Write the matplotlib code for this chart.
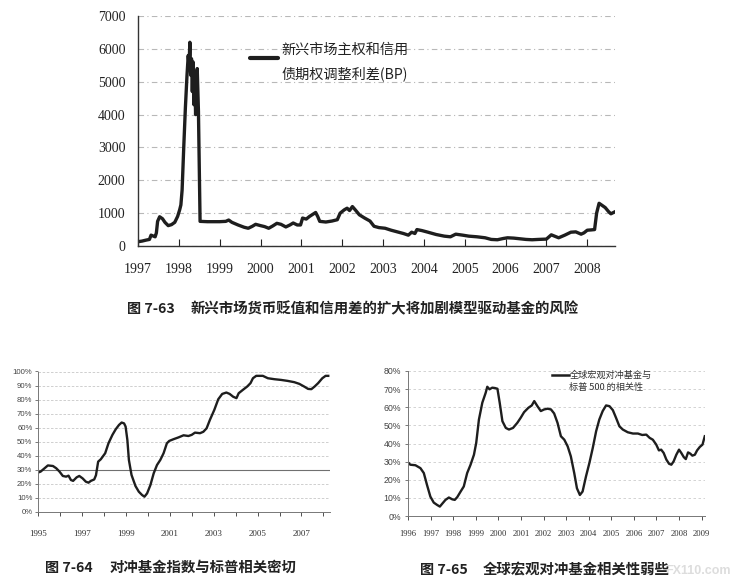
import matplotlib
matplotlib.use("Agg")
import matplotlib.pyplot as plt
import numpy as np

plt.rcParams['font.family'] = ['Liberation Serif', 'Noto Sans CJK SC', 'DejaVu Sans']

# ---------------- data: Fig 7-63 ----------------
spread_years = [1997.00, 1997.10, 1997.20, 1997.28, 1997.32, 1997.38, 1997.42, 1997.45, 1997.48, 1997.53,
                1997.60, 1997.66, 1997.74, 1997.82, 1997.90, 1997.97, 1998.02, 1998.05, 1998.08, 1998.12,
                1998.16, 1998.20, 1998.23, 1998.25, 1998.27, 1998.29, 1998.31, 1998.33, 1998.35, 1998.37,
                1998.39, 1998.41, 1998.43, 1998.45, 1998.48, 1998.52, 1998.70, 1999.00, 1999.15, 1999.22,
                1999.30, 1999.45, 1999.60, 1999.70, 1999.80, 1999.88, 2000.00, 2000.10, 2000.20, 2000.30,
                2000.40, 2000.50, 2000.62, 2000.72, 2000.80, 2000.90, 2000.98, 2001.03, 2001.12, 2001.20,
                2001.30, 2001.35, 2001.40, 2001.45, 2001.60, 2001.75, 2001.88, 2001.95, 2002.05, 2002.12,
                2002.18, 2002.25, 2002.32, 2002.42, 2002.55, 2002.68, 2002.78, 2002.90, 2003.05, 2003.20,
                2003.35, 2003.50, 2003.62, 2003.70, 2003.78, 2003.83, 2003.95, 2004.10, 2004.30, 2004.50,
                2004.65, 2004.78, 2004.95, 2005.10, 2005.30, 2005.50, 2005.65, 2005.80, 2005.95, 2006.05,
                2006.20, 2006.35, 2006.50, 2006.65, 2006.80, 2007.00, 2007.12, 2007.20, 2007.30, 2007.45,
                2007.60, 2007.72, 2007.85, 2007.92, 2008.00, 2008.10, 2008.18, 2008.23, 2008.29, 2008.36,
                2008.44, 2008.52, 2008.58, 2008.66]
spread_values = [130, 150, 180, 200, 330, 300, 280, 400, 750, 890,
                 830, 720, 620, 650, 720, 900, 1100, 1250, 1700, 3000,
                 4200, 5200, 5800, 5500, 6200, 5200, 5700, 4700, 5600, 4300,
                 5300, 4000, 4600, 5400, 4100, 750, 740, 740, 750, 790,
                 720, 640, 570, 540, 600, 660, 620, 590, 540, 610,
                 690, 660, 580, 640, 700, 640, 640, 850, 820, 900,
                 980, 1020, 900, 750, 730, 760, 800, 1000, 1100, 1150,
                 1080, 1200, 1100, 950, 850, 760, 600, 560, 540, 480,
                 430, 380, 330, 420, 380, 500, 470, 420, 350, 300,
                 280, 360, 330, 300, 280, 250, 200, 190, 230, 250,
                 240, 220, 200, 190, 200, 210, 340, 300, 250, 330,
                 420, 430, 360, 400, 480, 490, 500, 1000, 1300, 1240,
                 1170, 1050, 980, 1030]
spread_label = "新兴市场主权和信用\n债期权调整利差(BP)"
top_xticks = list(range(1997, 2009))
top_yticks = list(range(0, 7001, 1000))

# ---------------- data: Fig 7-64 ----------------
hf_years = [1995.00, 1995.12, 1995.30, 1995.45, 1995.68, 1995.83, 1995.98, 1996.13, 1996.28, 1996.39,
            1996.50, 1996.60, 1996.76, 1996.88, 1997.03, 1997.18, 1997.30, 1997.41, 1997.56, 1997.64,
            1997.74, 1997.86, 1998.06, 1998.21, 1998.39, 1998.54, 1998.69, 1998.81, 1998.92, 1998.99,
            1999.07, 1999.14, 1999.26, 1999.44, 1999.59, 1999.74, 1999.85, 1999.97, 2000.12, 2000.27,
            2000.42, 2000.57, 2000.72, 2000.87, 2000.98, 2001.17, 2001.40, 2001.63, 2001.85, 2002.00,
            2002.15, 2002.38, 2002.53, 2002.68, 2002.83, 2003.03, 2003.21, 2003.39, 2003.58, 2003.73,
            2003.89, 2004.04, 2004.14, 2004.34, 2004.53, 2004.68, 2004.79, 2004.94, 2005.24, 2005.47,
            2005.77, 2006.07, 2006.37, 2006.67, 2006.90, 2007.12, 2007.30, 2007.45, 2007.60, 2007.76,
            2007.95, 2008.10, 2008.22]
hf_values = [27.9, 28.6, 31.0, 33.0, 32.6, 31.0, 28.6, 25.5, 25.0, 25.7,
             22.6, 22.0, 24.5, 25.5, 23.8, 21.4, 20.7, 22.0, 23.0, 26.0,
             35.7, 37.4, 41.7, 48.8, 54.8, 58.8, 61.9, 63.6, 63.0, 60.7,
             51.2, 36.9, 26.2, 18.3, 14.3, 11.9, 10.7, 13.1, 19.0, 27.4,
             33.3, 36.9, 41.7, 48.8, 50.5, 51.7, 53.0, 54.5, 54.0, 54.8,
             56.4, 56.0, 57.0, 59.5, 65.5, 72.6, 80.2, 84.0, 85.0, 84.0,
             82.0, 81.0, 84.5, 87.0, 89.3, 91.7, 95.2, 96.9, 96.9, 95.2,
             94.5, 94.0, 93.3, 92.4, 91.2, 89.3, 87.6, 87.4, 89.3, 91.7,
             95.2, 96.9, 96.9]
left_xticklabels = [1995, 1997, 1999, 2001, 2003, 2005, 2007]
left_yticks = list(range(0, 101, 10))

# ---------------- data: Fig 7-65 ----------------
gm_years = [1996.00, 1996.10, 1996.33, 1996.55, 1996.70, 1996.84, 1996.99, 1997.14, 1997.29, 1997.41,
            1997.51, 1997.66, 1997.81, 1997.96, 1998.07, 1998.18, 1998.33, 1998.47, 1998.62, 1998.77,
            1998.92, 1999.02, 1999.14, 1999.29, 1999.44, 1999.51, 1999.61, 1999.73, 1999.85, 1999.96,
            2000.06, 2000.18, 2000.33, 2000.47, 2000.65, 2000.84, 2000.99, 2001.14, 2001.33, 2001.48,
            2001.59, 2001.73, 2001.88, 2002.03, 2002.18, 2002.33, 2002.47, 2002.62, 2002.77, 2002.92,
            2003.07, 2003.21, 2003.36, 2003.48, 2003.61, 2003.73, 2003.88, 2004.03, 2004.18, 2004.33,
            2004.47, 2004.62, 2004.77, 2004.92, 2005.07, 2005.21, 2005.36, 2005.51, 2005.73, 2005.96,
            2006.18, 2006.37, 2006.55, 2006.70, 2006.84, 2006.99, 2007.11, 2007.21, 2007.32, 2007.44,
            2007.56, 2007.66, 2007.76, 2007.88, 2008.00, 2008.10, 2008.21, 2008.30, 2008.40, 2008.50,
            2008.59, 2008.70, 2008.80, 2008.92, 2009.04, 2009.14]
gm_values = [29.6, 28.3, 28.0, 26.4, 23.7, 17.2, 10.7, 7.4, 6.1, 5.2,
             6.7, 8.9, 10.2, 9.2, 8.9, 10.4, 13.5, 16.3, 23.7, 28.3,
             33.8, 40.3, 53.2, 62.5, 68.0, 71.3, 69.9, 70.8, 70.6, 70.2,
             62.5, 52.3, 48.6, 47.7, 48.6, 51.4, 54.2, 57.3, 59.7, 61.0,
             63.4, 60.6, 57.9, 58.8, 59.2, 58.8, 56.6, 51.4, 44.0, 42.1,
             38.4, 32.9, 23.7, 15.3, 11.6, 13.5, 21.8, 29.2, 37.5, 46.8,
             53.2, 57.9, 61.0, 60.6, 58.4, 54.2, 49.5, 47.7, 46.2, 45.5,
             45.5, 44.7, 44.9, 43.1, 42.1, 39.4, 36.2, 36.6, 34.8, 31.1,
             28.8, 28.3, 30.1, 33.8, 36.6, 34.8, 32.5, 31.4, 35.1, 34.4,
             33.3, 33.8, 36.2, 38.1, 39.4, 44.0]
gm_label = "全球宏观对冲基金与\n标普 500 的相关性"
right_xticks = list(range(1996, 2010))
right_yticks = list(range(0, 81, 10))

captions = ["新兴市场货币贬值和信用差的扩大将加剧模型驱动基金的风险",
            "对冲基金指数与标普相关密切",
            "全球宏观对冲基金相关性弱些"]
fig_numbers = ["图 7-63", "图 7-64", "图 7-65"]

W, H = 734, 583
fig = plt.figure(figsize=(W / 100, H / 100), dpi=100)
fig.patch.set_facecolor('white')

def ax_rect(x0, y0, x1, y1):
    # pixel box (left, top, right, bottom) -> figure fraction rect
    return [x0 / W, 1 - y1 / H, (x1 - x0) / W, (y1 - y0) / H]

LINE = '#1e1e1e'
GRID = '#b8b8b8'
CJK = ['Noto Sans CJK SC', 'DejaVu Sans']

# ---------------- top chart ----------------
ax1 = fig.add_axes(ax_rect(138, 16, 615, 246))
ax1.plot(spread_years, spread_values, color=LINE, lw=2.4, solid_joinstyle='round')
ax1.set_xlim(1997, 2008.68)
ax1.set_ylim(0, 7000)
ax1.set_xticks(top_xticks)
ax1.set_xticklabels([str(y) for y in top_xticks])
ax1.set_yticks(top_yticks)
ax1.set_yticklabels([str(v) for v in top_yticks])
ax1.tick_params(axis='x', direction='in', length=5, width=0.8, pad=12, labelsize=10, colors='#222222')
ax1.tick_params(axis='y', length=0, pad=9, labelsize=10, colors='#222222')
for t in ax1.get_xticklabels() + ax1.get_yticklabels():
    t.set_fontfamily('Liberation Serif')
ax1.grid(axis='y', color=GRID, lw=0.8, linestyle=(0, (5, 3, 1, 3)))
ax1.set_axisbelow(True)
for s in ['top', 'right']:
    ax1.spines[s].set_visible(False)
for s in ['left', 'bottom']:
    ax1.spines[s].set_color('#333333')
    ax1.spines[s].set_linewidth(1.0)
ax1.plot([1999.75, 2000.42], [5710, 5710], color=LINE, lw=3.0, solid_capstyle='round')
ax1.text(2000.52, 5600, spread_label, family=CJK, fontsize=10.2, color='#222222',
         va='center', ha='left', linespacing=1.75)

fig.text(127 / W, 1 - 309 / H, fig_numbers[0], family=CJK, fontsize=10.2,
         fontweight='bold', va='center', ha='left', color='#222222')
fig.text(191 / W, 1 - 309 / H, captions[0], family=CJK, fontsize=10.4,
         fontweight='bold', va='center', ha='left', color='#222222')

# ---------------- bottom-left chart ----------------
ax2 = fig.add_axes(ax_rect(38, 371.5, 330, 511.7))
ax2.plot(hf_years, hf_values, color=LINE, lw=1.7, solid_joinstyle='round')
ax2.set_xlim(1995, 2008.3)
ax2.set_ylim(0, 100)
ax2.set_xticks(list(range(1995, 2009)))
ax2.set_xticklabels([str(y) if y in left_xticklabels else '' for y in range(1995, 2009)])
ax2.set_yticks(left_yticks)
ax2.set_yticklabels([f"{v}%" for v in left_yticks])
ax2.tick_params(axis='x', direction='out', length=3, width=0.6, pad=10, labelsize=6.5, colors='#333333')
ax2.tick_params(axis='y', direction='out', length=2, width=0.5, pad=2, labelsize=5.6, colors='#444444')
for t in ax2.get_xticklabels():
    t.set_fontfamily('Liberation Serif')
for t in ax2.get_yticklabels():
    t.set_fontfamily(['Liberation Sans Narrow', 'Liberation Sans'])
ax2.grid(axis='y', color='#c8c8c8', lw=0.6, linestyle=(0, (3, 2)))
ax2.axhline(30, color='#707070', lw=0.8, zorder=1)
ax2.set_axisbelow(True)
for s in ['top', 'right']:
    ax2.spines[s].set_visible(False)
for s in ['left', 'bottom']:
    ax2.spines[s].set_color('#777777')
    ax2.spines[s].set_linewidth(0.7)

fig.text(45 / W, 1 - 568 / H, fig_numbers[1], family=CJK, fontsize=10.2,
         fontweight='bold', va='center', ha='left', color='#222222')
fig.text(110 / W, 1 - 568 / H, captions[1], family=CJK, fontsize=10.4,
         fontweight='bold', va='center', ha='left', color='#222222')

# ---------------- bottom-right chart ----------------
ax3 = fig.add_axes(ax_rect(408, 371, 705, 516))
ax3.plot(gm_years, gm_values, color=LINE, lw=1.7, solid_joinstyle='round')
ax3.set_xlim(1996, 2009.15)
ax3.set_ylim(0, 80)
ax3.set_xticks(right_xticks)
ax3.set_xticklabels([str(y) for y in right_xticks])
ax3.set_yticks(right_yticks)
ax3.set_yticklabels([f"{v}%" for v in right_yticks])
ax3.tick_params(axis='x', direction='out', length=3, width=0.6, pad=7, labelsize=6.2, colors='#333333')
ax3.tick_params(axis='y', direction='out', length=2, width=0.5, pad=3, labelsize=6.3, colors='#444444')
for t in ax3.get_xticklabels():
    t.set_fontfamily('Liberation Serif')
for t in ax3.get_yticklabels():
    t.set_fontfamily(['Liberation Sans Narrow', 'Liberation Sans'])
ax3.grid(axis='y', color='#cccccc', lw=0.6, linestyle=(0, (3, 3)))
ax3.set_axisbelow(True)
for s in ['top', 'right']:
    ax3.spines[s].set_visible(False)
for s in ['left', 'bottom']:
    ax3.spines[s].set_color('#777777')
    ax3.spines[s].set_linewidth(0.7)
ax3.plot([2002.37, 2003.11], [77.6, 77.6], color=LINE, lw=1.8)
ax3.text(2003.15, 74.3, gm_label, family=CJK, fontsize=6.6, color='#333333',
         va='center', ha='left', linespacing=1.45)

fig.text(420 / W, 1 - 570 / H, fig_numbers[2], family=CJK, fontsize=10.2,
         fontweight='bold', va='center', ha='left', color='#222222')
fig.text(483 / W, 1 - 570 / H, captions[2], family=CJK, fontsize=10.4,
         fontweight='bold', va='center', ha='left', color='#222222')

# faint watermark (kept clear of the caption)
fig.text(731 / W, 1 - 571 / H, "FX110.com", family='Liberation Sans', fontsize=9,
         fontweight='bold', color='#dddddd', va='center', ha='right', zorder=0)

fig.savefig("out.png", dpi=100, facecolor='white')
